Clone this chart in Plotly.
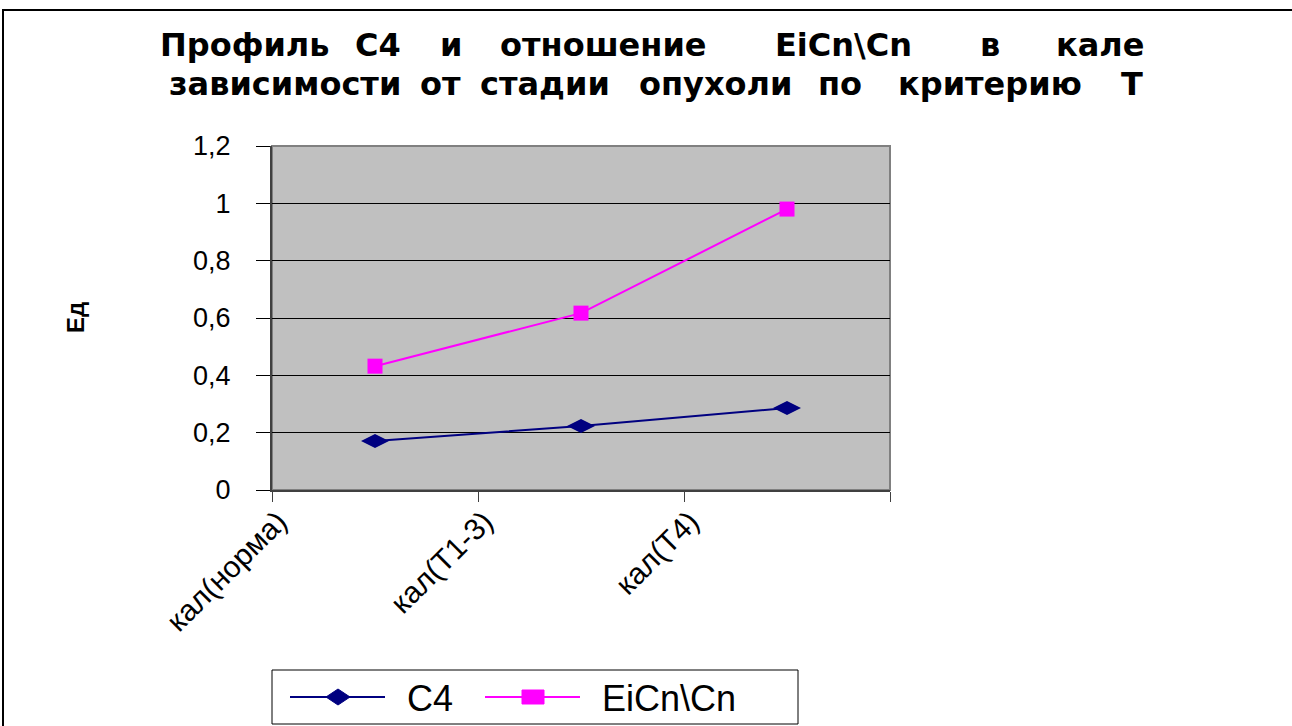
import plotly.graph_objects as go

categories = ["кал(норма)", "кал(Т1-3)", "кал(Т4)"]
c4_values = [0.171, 0.223, 0.286]
ratio_values = [0.432, 0.617, 0.980]
series_names = ["C4", "EiCn\\Cn"]
series_colors = ["#000080", "#FF00FF"]
y_tick_vals = [0, 0.2, 0.4, 0.6, 0.8, 1.0, 1.2]
y_tick_text = ["0", "0,2", "0,4", "0,6", "0,8", "1", "1,2"]
title_line1 = ["Профиль", "С4", "и", "отношение", "ЕiCn\\Cn", "в", "кале"]
title_line2 = ["зависимости", "от", "стадии", "опухоли", "по", "критерию", "Т"]
y_title = "Ед"

W, H = 1292, 726
L, R, T, B = 272, 890, 146, 490


def xp(px):
    return (px - L) / (R - L)


def yp(py):
    return (B - py) / (B - T)


xs = list(range(len(categories)))

fig = go.Figure()
fig.add_trace(go.Scatter(
    x=xs, y=c4_values, name=series_names[0], mode="lines+markers",
    line=dict(color=series_colors[0], width=2),
    marker=dict(symbol="diamond-wide", size=20, color=series_colors[0]),
    showlegend=False,
))
fig.add_trace(go.Scatter(
    x=xs, y=ratio_values, name=series_names[1], mode="lines+markers",
    line=dict(color=series_colors[1], width=2),
    marker=dict(symbol="square", size=15, color=series_colors[1]),
    showlegend=False,
))

font_family = "Liberation Sans, Arial, sans-serif"

fig.update_layout(
    width=W, height=H,
    margin=dict(l=L, r=W - R, t=T, b=H - B, autoexpand=False),
    paper_bgcolor="white",
    plot_bgcolor="#C0C0C0",
    font=dict(family=font_family, color="black"),
    xaxis=dict(
        range=[-0.5, len(categories) - 0.5],
        tickmode="array",
        tickvals=[i - 0.47 for i in xs],
        ticktext=categories,
        tickangle=-45,
        ticks="",
        tickfont=dict(size=30, family=font_family),
        showgrid=False, zeroline=False,
        showline=True, linecolor="#404040", linewidth=2,
        minor=dict(tickmode="linear", tick0=-0.5, dtick=1, ticks="outside",
                   ticklen=10, tickcolor="#404040", tickwidth=1, showgrid=False),
        fixedrange=True,
    ),
    yaxis=dict(
        range=[0, 1.2],
        tickmode="array", tickvals=y_tick_vals, ticktext=y_tick_text,
        ticks="outside", ticklen=14, tickcolor="black", tickwidth=1,
        ticklabelstandoff=20,
        tickfont=dict(size=27, family=font_family),
        showgrid=True, gridcolor="black", gridwidth=1,
        zeroline=False,
        showline=True, linecolor="#404040", linewidth=2,
        fixedrange=True,
    ),
)

# plot area border (top/right grey)
fig.add_shape(type="rect", xref="paper", yref="paper", x0=0, y0=0, x1=1, y1=1,
              line=dict(color="#808080", width=2), layer="below")
# outer chart frame
fig.add_shape(type="rect", xref="paper", yref="paper",
              x0=xp(3), y0=yp(10), x1=xp(1300), y1=yp(760),
              line=dict(color="black", width=2))

# custom legend (box, keys, labels)
fig.add_shape(type="rect", xref="paper", yref="paper",
              x0=xp(272), y0=yp(670), x1=xp(798), y1=yp(724),
              line=dict(color="black", width=1), fillcolor="white")
leg_y = 697
key_starts = [290, 485]
for name, color, kx, sym in zip(series_names, series_colors, key_starts, ["diamond", "square"]):
    fig.add_shape(type="line", xref="paper", yref="paper",
                  x0=xp(kx), x1=xp(kx + 95), y0=yp(leg_y), y1=yp(leg_y),
                  line=dict(color=color, width=2))
    cx = kx + 48
    if sym == "diamond":
        path = (f"M {xp(cx - 12)} {yp(leg_y)} L {xp(cx)} {yp(leg_y - 8)} "
                f"L {xp(cx + 12)} {yp(leg_y)} L {xp(cx)} {yp(leg_y + 8)} Z")
        fig.add_shape(type="path", xref="paper", yref="paper", path=path,
                      fillcolor=color, line=dict(color=color, width=1))
    else:
        fig.add_shape(type="rect", xref="paper", yref="paper",
                      x0=xp(cx - 11), x1=xp(cx + 11), y0=yp(leg_y - 7), y1=yp(leg_y + 7),
                      fillcolor=color, line=dict(color=color, width=1))
    fig.add_annotation(text=name, x=xp(kx + 115), y=yp(leg_y + 1), xref="paper", yref="paper",
                       xanchor="left", yanchor="middle", showarrow=False,
                       font=dict(size=36, family=font_family))

line1_cx = [245, 378, 451, 603, 843, 990, 1100]
line2_cx = [285, 440, 545, 715, 840, 990, 1132]
for word, px in zip(title_line1, line1_cx):
    fig.add_annotation(text=word, x=xp(px), y=yp(45), xref="paper", yref="paper",
                       xanchor="center", yanchor="middle", showarrow=False,
                       font=dict(size=32, family="DejaVu Sans", weight="bold"))
for word, px in zip(title_line2, line2_cx):
    fig.add_annotation(text=word, x=xp(px), y=yp(84), xref="paper", yref="paper",
                       xanchor="center", yanchor="middle", showarrow=False,
                       font=dict(size=32, family="DejaVu Sans", weight="bold"))

fig.add_annotation(text=y_title, x=xp(75), y=yp(318), xref="paper", yref="paper",
                   xanchor="center", yanchor="middle", showarrow=False, textangle=-90,
                   font=dict(size=24, family=font_family, weight="bold"))

fig.write_html("out.html", config={"displayModeBar": False},
               post_script="document.body.style.margin='0';")
